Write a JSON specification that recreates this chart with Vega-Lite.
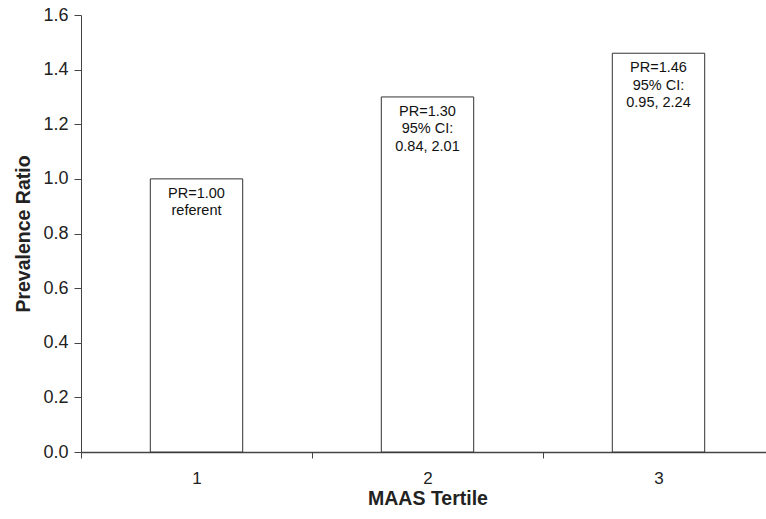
{
  "$schema": "https://vega.github.io/schema/vega-lite/v6.json",
  "width": 685,
  "height": 437,
  "autosize": {"type": "none"},
  "padding": {"left": 81, "top": 15, "right": 0, "bottom": 67},
  "background": "white",
  "config": {"view": {"stroke": null}, "font": "Liberation Sans"},
  "data": {"values": [
    {"tertile": "1", "pr": 1.00, "label": "PR=1.00\nreferent"},
    {"tertile": "2", "pr": 1.30, "label": "PR=1.30\n95% CI:\n0.84, 2.01"},
    {"tertile": "3", "pr": 1.46, "label": "PR=1.46\n95% CI:\n0.95, 2.24"}
  ]},
  "encoding": {
    "x": {"field": "tertile", "type": "nominal", "sort": null,
      "scale": {"type": "band", "padding": 0, "range": [0, 693]},
      "axis": {"title": "MAAS Tertile", "labelAngle": 0, "tickBand": "extent",
        "domainColor": "#444", "domainWidth": 1.5, "tickColor": "#444", "tickSize": 6, "tickWidth": 1,
        "labelFontSize": 17, "labelColor": "#222", "labelPadding": 12,
        "titleFontSize": 19.5, "titleFontWeight": "bold", "titleColor": "#222", "titlePadding": 3}},
    "y": {"field": "pr", "type": "quantitative",
      "scale": {"domain": [0, 1.6], "nice": false},
      "axis": {"title": "Prevalence Ratio", "values": [0, 0.2, 0.4, 0.6, 0.8, 1.0, 1.2, 1.4, 1.6], "format": ".1f",
        "grid": false, "domainColor": "#444", "domainWidth": 1, "tickColor": "#444", "tickSize": 7,
        "labelFontSize": 18, "labelColor": "#222", "labelPadding": 6,
        "titleFontSize": 19.5, "titleFontWeight": "bold", "titleColor": "#222", "titlePadding": 9}}
  },
  "layer": [
    {"mark": {"type": "bar", "width": {"band": 0.4}, "fill": "white", "stroke": "#333", "strokeWidth": 1}},
    {"mark": {"type": "text", "lineBreak": "\n", "baseline": "top", "dy": 8, "fontSize": 14.5, "lineHeight": 17.5, "color": "#111"},
      "encoding": {"text": {"field": "label"}}}
  ]
}
